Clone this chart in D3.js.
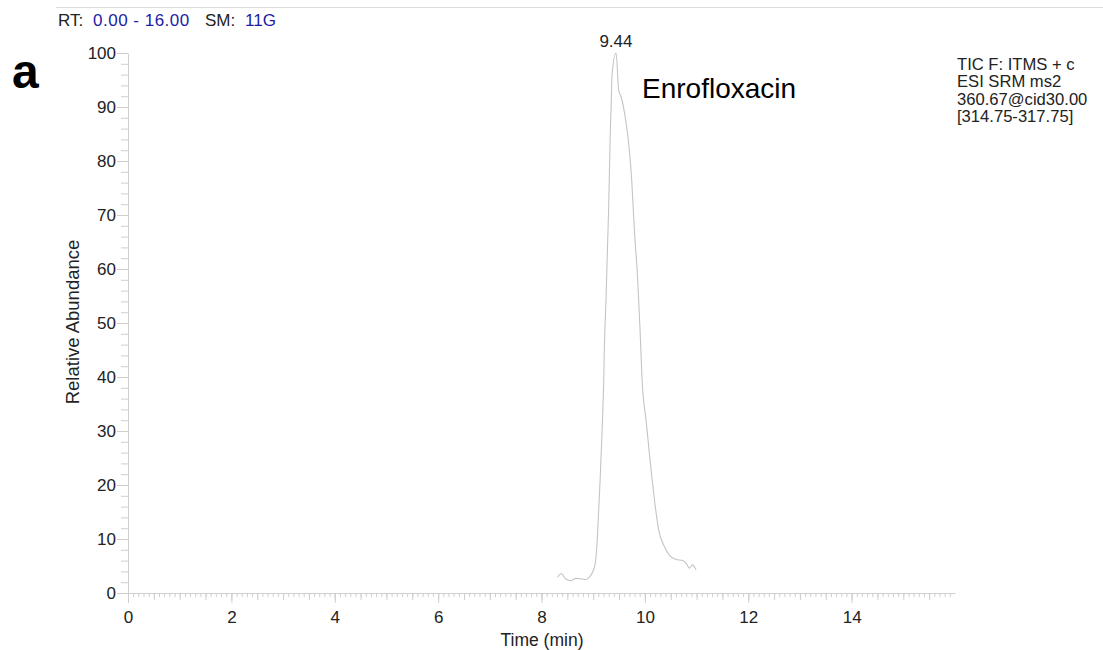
<!DOCTYPE html>
<html lang="en">
	<head>
		<meta charset="utf-8">
		<title>Enrofloxacin chromatogram</title>
		<script type="text/javascript" src="https://cdn.jsdelivr.net/npm/d3@7"></script>
		<style type="text/css">
			body { margin: 0; background: #fff; }
			svg text { font-family: "Liberation Sans", Arial, sans-serif; fill: #222; }
		</style>
	</head>
	<body>
		<script type="text/javascript">
			// retention time (min) and relative abundance (%)
			var times = [8.31, 8.39, 8.45, 8.51, 8.57, 8.67, 8.78, 8.86, 8.93, 8.99, 9.04, 9.07, 9.088,
							9.134, 9.173, 9.204, 9.217, 9.250, 9.281, 9.300, 9.314, 9.327, 9.347, 9.366,
							9.443, 9.494, 9.540, 9.637, 9.700, 9.745, 9.797, 9.861, 9.907, 9.946, 10.023,
							10.120, 10.267, 10.377, 10.473, 10.60, 10.73, 10.80, 10.86, 10.92, 10.99];
			var abundance = [2.9, 3.6, 2.8, 2.4, 2.3, 2.7, 2.6, 2.5, 3.0, 3.9, 5.5, 8.6, 11.7,
							20.9, 30.2, 39.4, 45.6, 54.9, 65.4, 71.5, 77.8, 83.9, 90.1, 96.2,
							100, 93.1, 91.9, 87.0, 82.0, 76.5, 67.2, 58.0, 48.7, 39.4, 32.0,
							22.8, 11.7, 8.6, 7.0, 6.2, 6.0, 5.5, 4.6, 5.2, 4.3];
			var xTicks = [0, 2, 4, 6, 8, 10, 12, 14];
			var yTicks = [0, 10, 20, 30, 40, 50, 60, 70, 80, 90, 100];
			var peakTime = 9.44;
			var infoLines = ["TIC F: ITMS + c", "ESI SRM ms2", "360.67@cid30.00", "[314.75-317.75]"];

			var w = 1103;
			var h = 650;
			var axisColor = "#cfcfcf";

			var xScale = d3.scaleLinear()
							.domain([0, 16])
							.range([128, 955]);
			var yScale = d3.scaleLinear()
							.domain([0, 100])
							.range([593, 53]);

			//create svg
			var svg = d3.select("body")
							.append("svg")
							.attr("width", w)
							.attr("height", h);

			//header rule and run info
			svg.append("line")
				.attr("x1", 56).attr("x2", w)
				.attr("y1", 7.5).attr("y2", 7.5)
				.attr("stroke", "#dcdcdc");
			var header = [["RT:", 58, "#222"], ["0.00 - 16.00", 93, "#1c1ca6"],
							["SM:", 205, "#222"], ["11G", 245, "#1c1ca6"]];
			svg.selectAll("text.header")
				.data(header)
				.enter()
				.append("text")
				.attr("class", "header")
				.attr("x", function(d) { return d[1]; })
				.attr("y", 26)
				.attr("font-size", "17px")
				.attr("letter-spacing", function(d) { return d[0].length > 5 ? "0.5px" : null; })
				.style("fill", function(d) { return d[2]; })
				.text(function(d) { return d[0]; });

			//panel letter
			svg.append("text")
				.attr("x", 12)
				.attr("y", 88)
				.attr("font-size", "48px")
				.attr("font-weight", "bold")
				.style("fill", "#000")
				.text("a");

			//x axis: minor, half and major ticks
			function styleAxis(g) {
				g.selectAll("path, line").attr("stroke", axisColor);
				g.selectAll("text").attr("font-size", "17px").style("fill", "#222");
			}
			var xMinor = svg.append("g")
				.attr("transform", "translate(0," + yScale(0) + ")")
				.call(d3.axisBottom(xScale)
					.tickValues(d3.range(0, 160).map(function(i) { return i / 10; }))
					.tickSize(4).tickSizeOuter(0).tickFormat(""));
			styleAxis(xMinor);
			var xHalf = svg.append("g")
				.attr("transform", "translate(0," + yScale(0) + ")")
				.call(d3.axisBottom(xScale)
					.tickValues(d3.range(0, 32).map(function(i) { return i / 2; }))
					.tickSize(7).tickSizeOuter(0).tickFormat(""));
			styleAxis(xHalf);
			xHalf.select(".domain").remove();
			var xMajor = svg.append("g")
				.attr("transform", "translate(0," + yScale(0) + ")")
				.call(d3.axisBottom(xScale)
					.tickValues(xTicks)
					.tickSize(10).tickPadding(8).tickSizeOuter(0)
					.tickFormat(d3.format("d")));
			styleAxis(xMajor);
			xMajor.select(".domain").remove();

			//y axis
			var yMinor = svg.append("g")
				.attr("transform", "translate(" + xScale(0) + ",0)")
				.call(d3.axisLeft(yScale)
					.tickValues(d3.range(0, 101, 2))
					.tickSize(7).tickSizeOuter(0).tickFormat(""));
			styleAxis(yMinor);
			var yMajor = svg.append("g")
				.attr("transform", "translate(" + xScale(0) + ",0)")
				.call(d3.axisLeft(yScale)
					.tickValues(yTicks)
					.tickSize(11).tickPadding(1).tickSizeOuter(0)
					.tickFormat(d3.format("d")));
			styleAxis(yMajor);
			yMajor.select(".domain").remove();

			//axis titles
			svg.append("text")
				.attr("x", 542)
				.attr("y", 646)
				.attr("text-anchor", "middle")
				.attr("font-size", "17.5px")
				.text("Time (min)");
			svg.append("text")
				.attr("transform", "translate(79," + 322 + ") rotate(-90)")
				.attr("text-anchor", "middle")
				.attr("font-size", "18.5px")
				.text("Relative Abundance");

			//chromatogram trace
			var points = times.map(function(t, i) { return [t, abundance[i]]; });
			var line = d3.line()
							.x(function(d) { return xScale(d[0]); })
							.y(function(d) { return yScale(d[1]); })
							.curve(d3.curveMonotoneX);
			svg.append("path")
				.datum(points)
				.attr("d", line)
				.attr("fill", "none")
				.attr("stroke", "#c4c4c4")
				.attr("stroke-width", 1.1);

			//peak label
			svg.append("text")
				.attr("x", xScale(peakTime))
				.attr("y", yScale(100) - 6)
				.attr("text-anchor", "middle")
				.attr("font-size", "17px")
				.text(peakTime.toFixed(2));

			svg.append("text")
				.attr("x", 642)
				.attr("y", 98)
				.attr("font-size", "28px")
				.style("fill", "#000")
				.text("Enrofloxacin");

			//scan filter info
			svg.selectAll("text.info")
				.data(infoLines)
				.enter()
				.append("text")
				.attr("class", "info")
				.attr("x", 957)
				.attr("y", function(d, i) { return 69.5 + i * 17.5; })
				.attr("font-size", "16.6px")
				.text(function(d) { return d; });
		</script>
	</body>
</html>
